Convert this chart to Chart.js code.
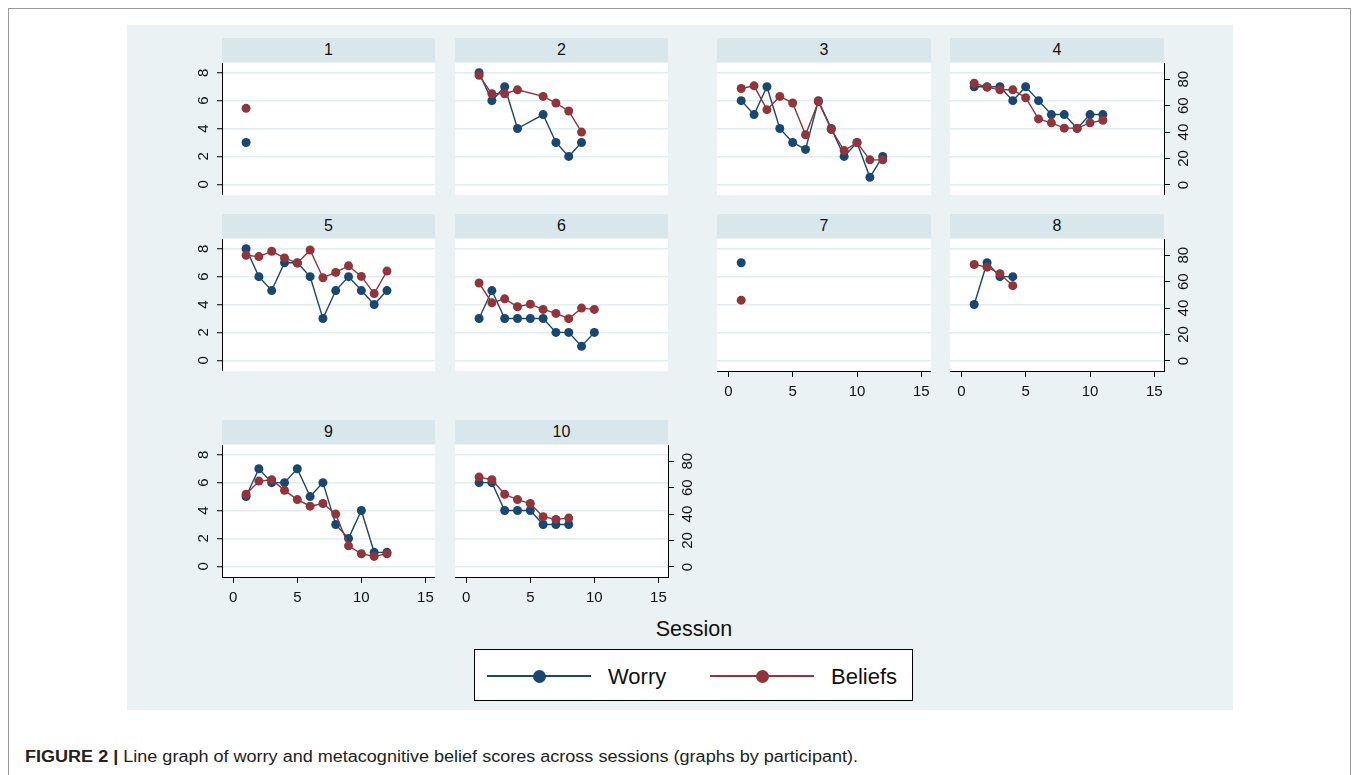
<!DOCTYPE html>
<html>
<head>
<meta charset="utf-8">
<script src="https://cdn.jsdelivr.net/npm/chart.js@4.4.0/dist/chart.umd.min.js"></script>
<style>
html,body{margin:0;padding:0;background:#fff;}
body{width:1358px;height:775px;position:relative;overflow:hidden;font-family:"Liberation Sans",Arial,sans-serif;}
.abs{position:absolute;}
#frame{left:8px;top:8px;width:1341px;height:820px;border:1px solid #9a9a9a;}
#region{left:127px;top:25px;width:1106px;height:685px;background:#EAF2F3;}
.strip{background:#D9E6EB;text-align:center;font-size:16px;color:#111;line-height:24px;height:24px;}
#session{left:594px;width:200px;top:616px;text-align:center;font-size:21.5px;color:#111;line-height:26px;}
#legend{left:474px;top:649px;width:437px;height:50px;border:1px solid #000;background:#fff;}
.lline{position:absolute;height:2px;}
.ldot{position:absolute;width:13px;height:13px;border-radius:50%;}
.ltext{position:absolute;font-size:22px;color:#111;line-height:26px;}
#caption{left:25px;top:747px;font-size:16px;color:#222;white-space:nowrap;transform-origin:0 0;font-family:"Liberation Sans Narrow","Liberation Sans",Arial,sans-serif;line-height:20px;}
</style>
</head>
<body>
<div id="frame" class="abs"></div>
<div id="region" class="abs"></div>
<div id="session" class="abs">Session</div>
<div id="legend" class="abs">
  <div class="lline" style="left:12px;top:25px;width:104px;background:#1A476F"></div>
  <div class="ldot" style="left:57.5px;top:19.5px;background:#1A476F"></div>
  <div class="ltext" style="left:133px;top:14px">Worry</div>
  <div class="lline" style="left:235px;top:25px;width:104px;background:#90353B"></div>
  <div class="ldot" style="left:280.5px;top:19.5px;background:#90353B"></div>
  <div class="ltext" style="left:356px;top:14px">Beliefs</div>
</div>
<div id="caption" class="abs"><b>FIGURE 2 |</b> Line graph of worry and metacognitive belief scores across sessions (graphs by participant).</div>

<script>
// ---------------- DATA ----------------
const participants = ['1','2','3','4','5','6','7','8','9','10'];

const sessions1 = [1];
const worry1    = [3];
const beliefs1  = [58];

const sessions2 = [1,2,3,4,6,7,8,9];
const worry2    = [8,6,7,4,5,3,2,3];
const beliefs2  = [83,69,69,72,67,62,56,40];

const sessions3 = [1,2,3,4,5,6,7,8,9,10,11,12];
const worry3    = [6,5,7,4,3,2.5,6,4,2,3,0.5,2];
const beliefs3  = [73,75,57,67,62,38,63,42,26,32,19,19];

const sessions4 = [1,2,3,4,5,6,7,8,9,10,11];
const worry4    = [7,7,7,6,7,6,5,5,4,5,5];
const beliefs4  = [77,74,72,72,66,50,47,43,43,47,49];

const sessions5 = [1,2,3,4,5,6,7,8,9,10,11,12];
const worry5    = [8,6,5,7,7,6,3,5,6,5,4,5];
const beliefs5  = [80,79,83,78,74,84,63,67,72,64,51,68];

const sessions6 = [1,2,3,4,5,6,7,8,9,10];
const worry6    = [3,5,3,3,3,3,2,2,1,2];
const beliefs6  = [59,44,47,41,43,39,36,32,40,39];

const sessions7 = [1];
const worry7    = [7];
const beliefs7  = [46];

const sessions8 = [1,2,3,4];
const worry8    = [4,7,6,6];
const beliefs8  = [73,71,66,57];

const sessions9 = [1,2,3,4,5,6,7,8,9,10,11,12];
const worry9    = [5,7,6,6,7,5,6,3,2,4,1,1];
const beliefs9  = [55,65,66,58,51,46,48,40,16,10,8,10];

const sessions10 = [1,2,3,4,5,6,7,8];
const worry10    = [6,6,4,4,4,3,3,3];
const beliefs10  = [68,66,55,51,48,38,36,37];

const worryTicks   = [0,2,4,6,8];
const beliefsTicks = [0,20,40,60,80];
const sessionTicks = [0,5,10,15];
const sessionMinorTicks = [0,1,2,3,4,5,6,7,8,9,10,11,12,13,14,15];

// ---------------- STYLE / LAYOUT ----------------
const WORRY_COLOR = '#1A476F';
const BELIEF_COLOR = '#90353B';
const GRID_COLOR = '#E3ECEF';
const FONT = '"Liberation Sans", Arial, sans-serif';
const colLefts = [222, 455, 717, 950];
const colWidths = [213, 213, 214, 214];
const rowTops = [63, 239, 445];
const PLOT_H = 132;

const panelData = [
  [sessions1, worry1, beliefs1],
  [sessions2, worry2, beliefs2],
  [sessions3, worry3, beliefs3],
  [sessions4, worry4, beliefs4],
  [sessions5, worry5, beliefs5],
  [sessions6, worry6, beliefs6],
  [sessions7, worry7, beliefs7],
  [sessions8, worry8, beliefs8],
  [sessions9, worry9, beliefs9],
  [sessions10, worry10, beliefs10]
];
// grid slot and which axes are drawn for each panel
const panelLayout = [
  {col:0,row:0,left:true, right:false,bottom:false},
  {col:1,row:0,left:false,right:false,bottom:false},
  {col:2,row:0,left:false,right:false,bottom:false},
  {col:3,row:0,left:false,right:true, bottom:false},
  {col:0,row:1,left:true, right:false,bottom:false},
  {col:1,row:1,left:false,right:false,bottom:false},
  {col:2,row:1,left:false,right:false,bottom:true},
  {col:3,row:1,left:false,right:true, bottom:true},
  {col:0,row:2,left:true, right:false,bottom:true},
  {col:1,row:2,left:false,right:true, bottom:true}
];

function toPts(xs, ys){ return xs.map((x,i)=>({x:x, y:ys[i]})); }
function setTicks(arr){ return function(s){ s.ticks = arr.map(v=>({value:v})); }; }

function makePanel(idx){
  const [ss, ww, bb] = panelData[idx];
  const lay = panelLayout[idx];
  const L = colLefts[lay.col], T = rowTops[lay.row], W = colWidths[lay.col];

  const strip = document.createElement('div');
  strip.className = 'abs strip';
  strip.style.left = L+'px'; strip.style.top = (T-25)+'px'; strip.style.width = W+'px';
  strip.textContent = participants[idx];
  document.body.appendChild(strip);

  const bg = document.createElement('div');
  bg.className = 'abs';
  bg.style.cssText = `left:${L}px;top:${T}px;width:${W}px;height:${PLOT_H}px;background:#fff;`;
  document.body.appendChild(bg);

  const lw = lay.left?40:0, rw = lay.right?40:0, bh = lay.bottom?32:0;
  const cv = document.createElement('canvas');
  cv.width = W+lw+rw; cv.height = PLOT_H+bh;
  cv.className = 'abs';
  cv.style.left = (L-lw)+'px'; cv.style.top = T+'px';
  cv.style.width = cv.width+'px'; cv.style.height = cv.height+'px';
  document.body.appendChild(cv);

  const ptStyle = (c)=>({borderColor:c, backgroundColor:c, pointBackgroundColor:c, pointBorderColor:c,
                         pointRadius:4.5, pointBorderWidth:0, borderWidth:1.4, tension:0, clip:false});
  new Chart(cv, {
    type:'line',
    data:{datasets:[
      Object.assign({label:'Worry', data:toPts(ss, ww), yAxisID:'y', xAxisID:'x', order:2}, ptStyle(WORRY_COLOR)),
      Object.assign({label:'Beliefs', data:toPts(ss, bb), yAxisID:'y1', xAxisID:'x', order:1}, ptStyle(BELIEF_COLOR))
    ]},
    options:{
      responsive:false, animation:false, devicePixelRatio:1, events:[],
      layout:{padding:0, autoPadding:false},
      plugins:{legend:{display:false}, tooltip:{enabled:false}, title:{display:false}},
      scales:{
        x:{type:'linear', axis:'x', position:'bottom', display:lay.bottom, min:-0.88, max:15.75, bounds:'data',
           afterBuildTicks:setTicks(sessionTicks),
           ticks:{color:'#111', font:{family:FONT, size:15}, padding:6, minRotation:0, maxRotation:0, autoSkip:false},
           grid:{drawOnChartArea:false, drawTicks:true, tickLength:6, tickColor:'#000', tickWidth:1},
           border:{display:true, color:'#000', width:1},
           afterFit:(s)=>{ s.height = bh; s.paddingLeft = 0; s.paddingRight = 0; }},
        xMinor:{type:'linear', axis:'x', position:'bottom', display:lay.bottom, min:-0.88, max:15.75, bounds:'data',
           afterBuildTicks:setTicks(sessionMinorTicks),
           ticks:{display:false},
           grid:{drawOnChartArea:false, drawTicks:true, tickLength:3.5, tickColor:'#000', tickWidth:1},
           border:{display:true, color:'#000', width:1},
           afterFit:(s)=>{ s.height = 0; s.paddingLeft = 0; s.paddingRight = 0; }},
        y:{type:'linear', axis:'y', position:'left', display:true, min:-0.77, max:8.7, bounds:'data',
           afterBuildTicks:setTicks(worryTicks),
           ticks:{display:lay.left, minRotation:90, maxRotation:90, crossAlign:'center', padding:9,
                  color:'#111', font:{family:FONT, size:15}},
           grid:{color:GRID_COLOR, lineWidth:1.5, drawTicks:lay.left, tickLength:5, tickColor:'#000', tickWidth:1},
           border:{display:lay.left, color:'#000', width:1},
           afterFit:(s)=>{ s.width = lw; s.paddingTop = 0; s.paddingBottom = 0; }},
        y1:{type:'linear', axis:'y', position:'right', display:lay.right, min:-7.6, max:92.3, bounds:'data',
           afterBuildTicks:setTicks(beliefsTicks),
           ticks:{minRotation:90, maxRotation:90, crossAlign:'center', padding:6,
                  color:'#111', font:{family:FONT, size:15}},
           grid:{drawOnChartArea:false, drawTicks:true, tickLength:6, tickColor:'#000', tickWidth:1},
           border:{display:true, color:'#000', width:1},
           afterFit:(s)=>{ s.width = rw; s.paddingTop = 0; s.paddingBottom = 0; }}
      }
    }
  });
}

for (let i = 0; i < panelData.length; i++) makePanel(i);

// fit caption to reference width
const cap = document.getElementById('caption');
const cw = cap.getBoundingClientRect().width;
cap.style.transform = 'scaleX(' + (833 / cw) + ')';
</script>
</body>
</html>
